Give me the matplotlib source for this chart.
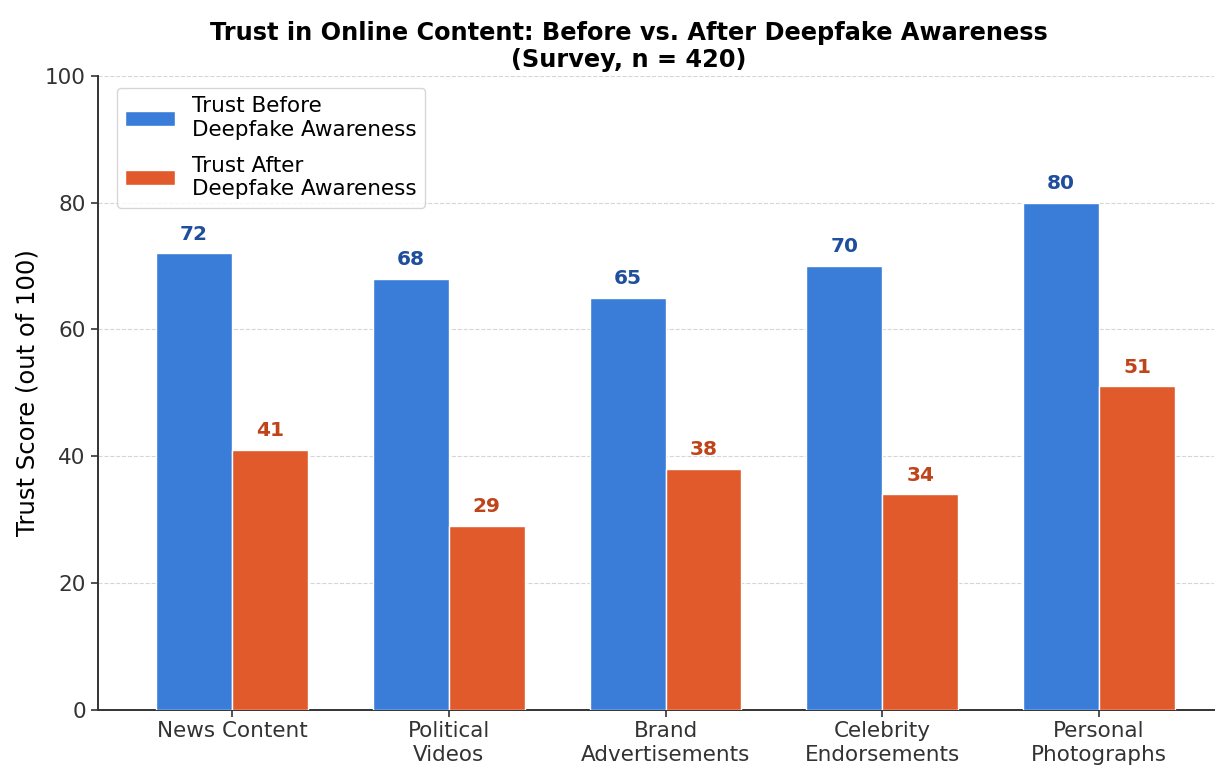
import numpy as np
import matplotlib.pyplot as plt

categories = ["News Content", "Political\nVideos", "Brand\nAdvertisements",
              "Celebrity\nEndorsements", "Personal\nPhotographs"]
trust_before = [72, 68, 65, 70, 80]
trust_after = [41, 29, 38, 34, 51]
labels = ["Trust Before\nDeepfake Awareness", "Trust After\nDeepfake Awareness"]


def plot_trust():
    x = np.arange(len(categories))
    w = 0.35
    fig, ax = plt.subplots(figsize=(12.2, 7.73), dpi=100)
    b1 = ax.bar(x - w / 2, trust_before, w, color="#3a7dd8", edgecolor="white",
                linewidth=1, label=labels[0], zorder=3)
    b2 = ax.bar(x + w / 2, trust_after, w, color="#e05a2b", edgecolor="white",
                linewidth=1, label=labels[1], zorder=3)
    for bar, v in zip(b1, trust_before):
        ax.text(bar.get_x() + bar.get_width() / 2, v + 1.5, f"{v}", ha="center",
                va="bottom", fontsize=14.5, fontweight="bold", color="#1f4e9c")
    for bar, v in zip(b2, trust_after):
        ax.text(bar.get_x() + bar.get_width() / 2, v + 1.5, f"{v}", ha="center",
                va="bottom", fontsize=14.5, fontweight="bold", color="#c0441a")

    ax.set_xticks(x)
    ax.set_xticklabels(categories, fontsize=15.5)
    ax.set_ylim(0, 100)
    ax.set_xlim(-0.62, 4.53)
    ax.set_yticks(range(0, 101, 20))
    ax.tick_params(axis="y", labelsize=15.5)
    ax.tick_params(colors="#333333", width=1.2, length=5)
    ax.set_ylabel("Trust Score (out of 100)", fontsize=17.5)
    # title sits a bit left of the axes centre in the original
    ax.set_title("Trust in Online Content: Before vs. After Deepfake Awareness\n(Survey, n = 420)",
                 fontsize=17.3, fontweight="bold", x=0.476)
    ax.grid(axis="y", linestyle="--", color="#cccccc", alpha=0.8, zorder=0)
    ax.spines["top"].set_visible(False)
    ax.spines["right"].set_visible(False)
    for s in ["left", "bottom"]:
        ax.spines[s].set_color("#333333")
        ax.spines[s].set_linewidth(1.4)
    ax.legend(loc="upper left", fontsize=15.5, bbox_to_anchor=(0.017, 0.981),
              borderaxespad=0, labelspacing=0.75, handlelength=2.3)
    fig.subplots_adjust(left=0.08, right=0.995, top=0.902, bottom=0.082)
    plt.savefig("out.png")


if __name__ == "__main__":
    plot_trust()
